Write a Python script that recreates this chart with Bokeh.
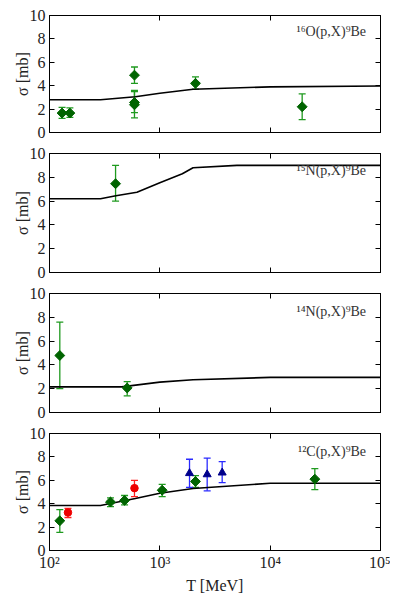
import numpy as np
from bokeh.plotting import figure
from bokeh.layouts import column
from bokeh.models import (ColumnDataSource, Whisker, TeeHead, FixedTicker, LogAxis,
                          LinearAxis, Label)
from bokeh.embed import file_html
from bokeh.resources import INLINE

# ---------------- data ----------------
x_ticks = [100, 1000, 10000, 100000]
x_tick_labels = ["10²", "10³", "10⁴", "10⁵"]
y_ticks = [0, 2, 4, 6, 8, 10]

panel_titles = ["¹⁶O(p,X)⁹Be", "¹⁵N(p,X)⁹Be", "¹⁴N(p,X)⁹Be", "¹²C(p,X)⁹Be"]

# theory curves
o16_T = [100, 290, 600, 1000, 2000, 10000, 100000]
o16_sig = [2.8, 2.8, 3.05, 3.35, 3.7, 3.9, 3.97]
n15_T = [100, 290, 400, 620, 1000, 1600, 2000, 5000, 100000]
n15_sig = [6.2, 6.2, 6.45, 6.75, 7.55, 8.3, 8.8, 9.0, 9.0]
n14_T = [100, 450, 1000, 2000, 10000, 100000]
n14_sig = [2.15, 2.15, 2.55, 2.75, 2.95, 2.95]
c12_T = [100, 290, 600, 1000, 2000, 10000, 100000]
c12_sig = [3.85, 3.85, 4.45, 4.9, 5.3, 5.75, 5.75]

# measurements: green diamonds
o16_x = [130, 153, 589, 589, 589, 2105, 19500]
o16_y = [1.66, 1.66, 4.9, 2.57, 2.37, 4.2, 2.2]
o16_lo = [1.2, 1.3, 4.2, 1.7, 1.25, 3.7, 1.1]
o16_hi = [2.15, 2.1, 5.6, 3.5, 3.6, 4.75, 3.3]

n15_x = [397]
n15_y = [7.46]
n15_lo = [6.0]
n15_hi = [9.0]

n14_x = [124, 506]
n14_y = [4.79, 2.06]
n14_lo = [2.0, 1.4]
n14_hi = [7.6, 2.6]

c12_g_x = [124, 357, 479, 1050, 2105, 25400]
c12_g_y = [2.54, 4.14, 4.28, 5.15, 5.9, 6.1]
c12_g_lo = [1.55, 3.75, 3.9, 4.6, 5.4, 5.2]
c12_g_hi = [3.5, 4.5, 4.7, 5.65, 6.4, 7.0]

# red circles
c12_r_x = [147, 589]
c12_r_y = [3.25, 5.33]
c12_r_lo = [2.82, 4.6]
c12_r_hi = [3.6, 6.0]

# blue triangles
c12_b_x = [1858, 2686, 3673]
c12_b_y = [6.6, 6.5, 6.65]
c12_b_lo = [5.4, 5.1, 5.8]
c12_b_hi = [7.8, 7.9, 7.6]

# ---------------- style ----------------
FONT = "Liberation Serif"
GREEN_M = "#006400"
GREEN_E = "#1f9a1f"
RED_M = "#ee0000"
RED_E = "#ff2020"
BLUE_M = "#00008b"
BLUE_E = "#2a2aff"

LEFT, RIGHT = 49, 10
FRAME_W = 331


def style_axis(ax, labels=True):
    ax.major_tick_in = 5
    ax.major_tick_out = 0
    ax.minor_tick_line_color = None
    ax.axis_line_color = "black"
    ax.major_tick_line_color = "black"
    ax.major_label_text_font = FONT
    ax.major_label_text_font_size = "16px"
    if labels:
        ax.major_label_text_color = "#222222"
        ax.major_label_standoff = 4
    else:
        ax.major_label_text_color = None
        ax.major_label_text_alpha = 0
        ax.major_label_text_font_size = "1px"
        ax.major_label_standoff = 0


def make_panel(title, label_y, curve_T, curve_s, series, top, frame_h, bottom_b, bottom=False):
    p = figure(x_axis_type="log", x_range=(100, 100000), y_range=(0, 10),
               width=LEFT + FRAME_W + RIGHT, height=top + frame_h + bottom_b,
               output_backend="svg", toolbar_location=None,
               min_border_left=LEFT, min_border_right=RIGHT,
               min_border_top=top, min_border_bottom=bottom_b)
    p.grid.visible = False
    p.outline_line_color = "black"
    p.background_fill_color = "white"
    p.border_fill_color = "white"

    p.xaxis.ticker = FixedTicker(ticks=x_ticks)
    p.xaxis.major_label_overrides = {t: l for t, l in zip(x_ticks, x_tick_labels)}
    style_axis(p.xaxis[0], labels=bottom)
    if bottom:
        p.xaxis.major_label_standoff = 3
        p.xaxis.axis_label = "T [MeV]"
        p.xaxis.axis_label_text_font = FONT
        p.xaxis.axis_label_text_font_size = "16px"
        p.xaxis.axis_label_text_font_style = "normal"
        p.xaxis.axis_label_text_color = "#222222"
        p.xaxis.axis_label_standoff = 3

    p.yaxis.ticker = FixedTicker(ticks=y_ticks)
    style_axis(p.yaxis[0], labels=True)
    p.yaxis.axis_label = "σ [mb]"
    p.yaxis.axis_label_text_font = FONT
    p.yaxis.axis_label_text_font_size = "16px"
    p.yaxis.axis_label_text_font_style = "normal"
    p.yaxis.axis_label_text_color = "#222222"
    p.yaxis.axis_label_standoff = -4

    top_ax = LogAxis(ticker=FixedTicker(ticks=x_ticks))
    style_axis(top_ax, labels=False)
    p.add_layout(top_ax, "above")
    right_ax = LinearAxis(ticker=FixedTicker(ticks=y_ticks))
    style_axis(right_ax, labels=False)
    p.add_layout(right_ax, "right")

    p.line(curve_T, curve_s, line_color="black", line_width=1.6)

    for (xs, ys, lo, hi, marker, mcolor, ecolor, size, angle) in series:
        src = ColumnDataSource(dict(x=xs, y=ys, lo=lo, hi=hi))
        w = Whisker(source=src, base="x", lower="lo", upper="hi",
                    line_color=ecolor, line_width=1.3,
                    upper_head=TeeHead(size=7, line_color=ecolor, line_width=1.3),
                    lower_head=TeeHead(size=7, line_color=ecolor, line_width=1.3))
        p.add_layout(w)
        p.scatter("x", "y", source=src, marker=marker, size=size, angle=angle,
                  fill_color=mcolor, line_color=mcolor)

    p.add_layout(Label(x=74000, y=label_y, text=title, text_align="right",
                       text_baseline="middle", text_font=FONT,
                       text_font_size="14px", text_color="#333333"))
    return p


def g(xs, ys, lo, hi):
    return (xs, ys, lo, hi, "square", GREEN_M, GREEN_E, 7, np.pi / 4)


p1 = make_panel(panel_titles[0], 8.65, o16_T, o16_sig,
                [g(o16_x, o16_y, o16_lo, o16_hi)], top=15, frame_h=117, bottom_b=10)
p2 = make_panel(panel_titles[1], 8.55, n15_T, n15_sig,
                [g(n15_x, n15_y, n15_lo, n15_hi)], top=11, frame_h=119, bottom_b=10)
p3 = make_panel(panel_titles[2], 8.45, n14_T, n14_sig,
                [g(n14_x, n14_y, n14_lo, n14_hi)], top=11, frame_h=119, bottom_b=10)
p4 = make_panel(panel_titles[3], 8.45, c12_T, c12_sig,
                [g(c12_g_x, c12_g_y, c12_g_lo, c12_g_hi),
                 (c12_r_x, c12_r_y, c12_r_lo, c12_r_hi, "circle", RED_M, RED_E, 7.5, 0),
                 (c12_b_x, c12_b_y, c12_b_lo, c12_b_hi, "triangle", BLUE_M, BLUE_E, 8, 0)],
                top=11, frame_h=119, bottom_b=44, bottom=True)

layout = column(p1, p2, p3, p4, spacing=0)

open("out.html", "w").write(file_html(layout, INLINE))
